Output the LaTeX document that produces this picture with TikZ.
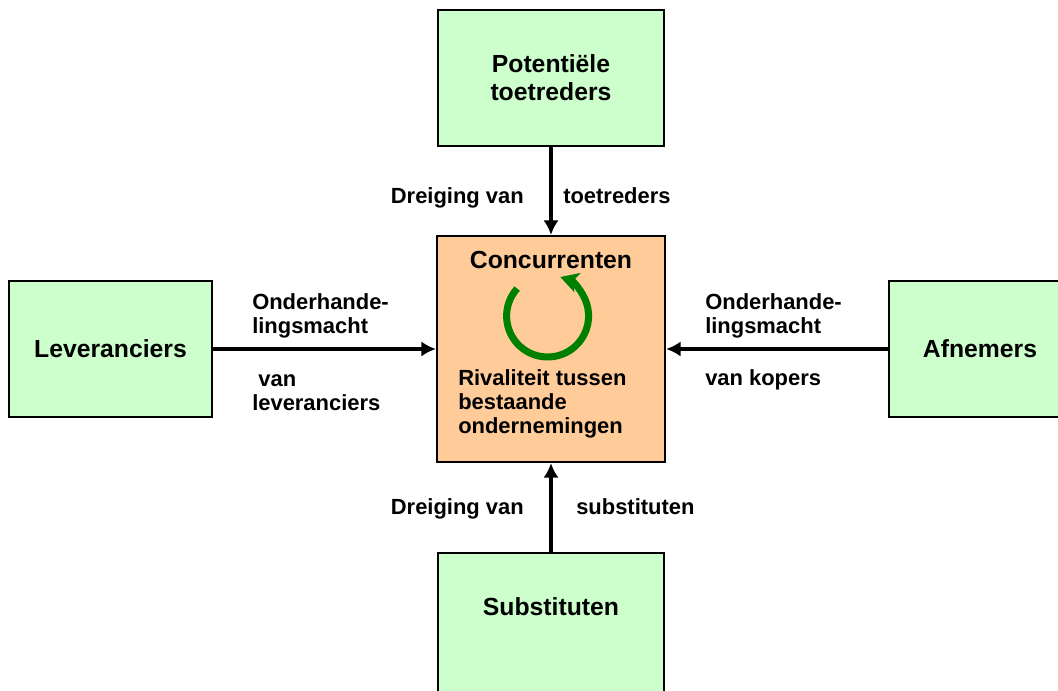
\documentclass[tikz,border=0pt]{standalone}
\usepackage{fontspec}
\setmainfont{Liberation Sans}
\usetikzlibrary{calc}
\usetikzlibrary{arrows.meta}
\definecolor{forcegreen}{HTML}{CCFFCC}
\definecolor{rivalorange}{HTML}{FFCC99}
\definecolor{cyclegreen}{HTML}{008000}
\tikzset{
	forcebox/.style={draw=black, line width=1.6pt, fill=forcegreen, minimum width=#1, minimum height=3.4cm, align=center, font=\bfseries\fontsize{17.6}{19.9}\selectfont},
	forcebox/.default=5.65cm,
	forcetext/.style={inner sep=0pt, align=left, font=\bfseries\fontsize{15.6}{17}\selectfont},
	push/.style={line width=2.9pt, -{Latex[length=0.36cm, width=0.38cm]}}
}

\begin{document}
\begin{tikzpicture}
			\useasboundingbox (0,0) rectangle (26.45,-17.275);
			\clip (0,0) rectangle (26.45,-17.275);
			\node[forcebox, fill=rivalorange, minimum width=5.7cm, minimum height=5.65cm] (conc) at (13.775,-8.725) {};
			\node[forcebox] (pot) at (13.775,-1.95) {Potentiële\\toetreders};
			\node[forcebox=5.075cm] (lev) at (2.7625,-8.725) {Leveranciers};
			\node[forcebox=4.55cm] (afn) at (24.5,-8.725) {Afnemers};
			\node[forcebox, minimum height=5cm, anchor=north] (sub) at (13.775,-13.8) {};
			\node[font=\bfseries\fontsize{17.6}{19.9}\selectfont] (subtxt) at ($(sub.north)+(0,-1.375)$) {Substituten};
			\node[font=\bfseries\fontsize{17.6}{19.9}\selectfont] (conctxt) at (13.775,-6.5) {Concurrenten};
			\node[forcetext, anchor=west] (rival) at (11.45,-10.1) {Rivaliteit tussen\\bestaande\\ondernemingen};
			\draw[cyclegreen, line width=5pt, -{Stealth[length=0.45cm, width=0.5cm, inset=0.12cm]}] (13.69,-7.9) ++(138:1.025) arc (138:432:1.025);
			\draw[push] (pot) -- (conc);
			\draw[push] (sub) -- (conc);
			\draw[push] (lev) -- (conc);
			\draw[push] (afn) -- (conc);
			\node[forcetext, anchor=base east] (potl) at (13.1,-5.1) {Dreiging van};
			\node[forcetext, anchor=base west] (potr) at (14.075,-5.1) {toetreders};
			\node[forcetext, anchor=base east] (subl) at (13.1,-12.85) {Dreiging van};
			\node[forcetext, anchor=base west] (subr) at (14.4,-12.85) {substituten};
			\node[forcetext, anchor=west] (leva) at (6.3,-7.9) {Onderhande-\\lingsmacht};
			\node[forcetext, anchor=west] (levb) at (6.3,-9.8125) {\ van\\leveranciers};
			\node[forcetext, anchor=west] (afna) at (17.625,-7.9) {Onderhande-\\lingsmacht};
			\node[forcetext, anchor=west] (afnb) at (17.625,-9.5) {van kopers};
		\end{tikzpicture}
\end{document}
